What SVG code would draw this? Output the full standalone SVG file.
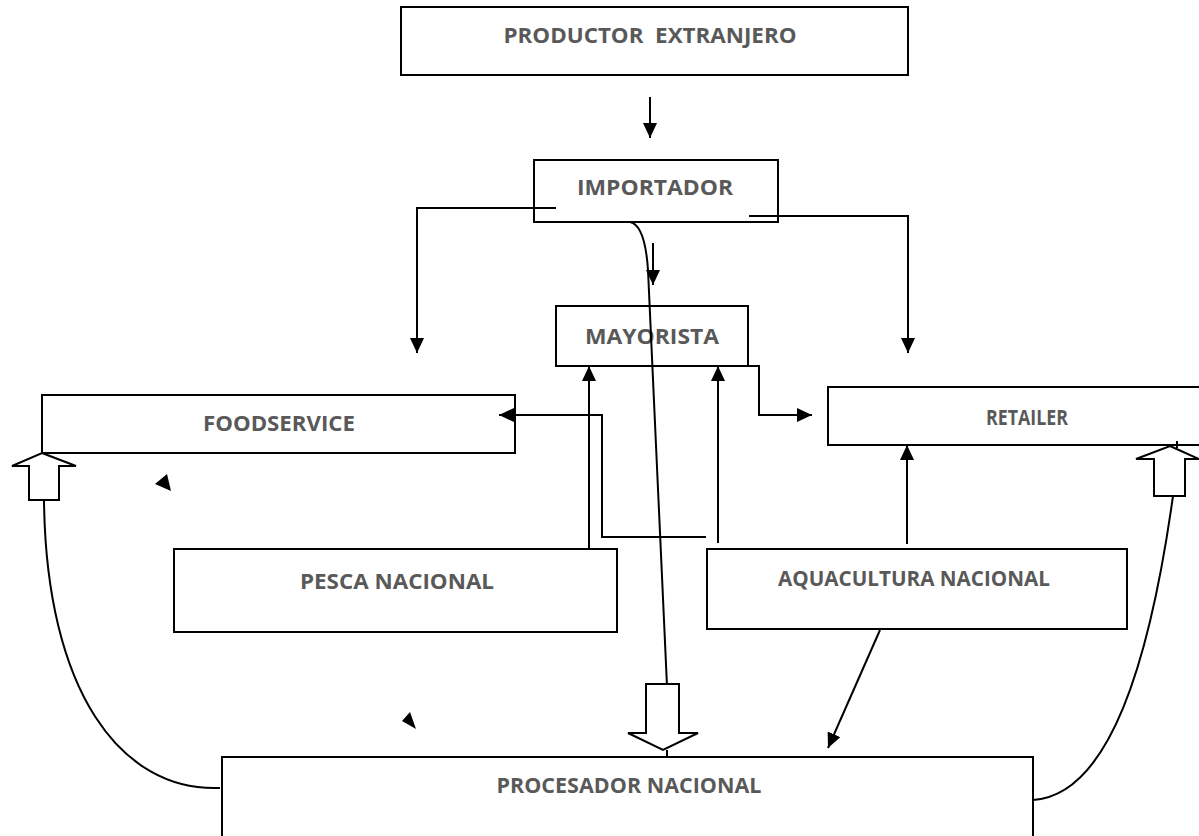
<svg xmlns="http://www.w3.org/2000/svg" width="1199" height="836" viewBox="0 0 1199 836">
<style>
.box{fill:#fff;stroke:#000;stroke-width:2}
.lbl{font-family:"Open Sans","Liberation Sans",Arial,sans-serif;font-weight:bold;font-size:21px;fill:#595959;text-anchor:middle}
.ln{fill:none;stroke:#000;stroke-width:2}
.blk{fill:#fff;stroke:#000;stroke-width:2;stroke-linejoin:miter}
.tri{fill:#000}
</style>
<defs>
<marker id="ah" markerUnits="userSpaceOnUse" markerWidth="15" markerHeight="14" viewBox="0 0 15 14" refX="15" refY="7" orient="auto">
<path d="M0,0 L15,7 L0,14 Z" fill="#000"/>
</marker>
</defs>
<g id="productor"><rect class="box" x="401" y="7" width="507" height="68"/><text class="lbl" x="650" y="43" textLength="293" lengthAdjust="spacingAndGlyphs" xml:space="preserve">PRODUCTOR  EXTRANJERO</text></g>
<g id="importador"><rect class="box" x="534" y="160" width="244" height="62"/><text class="lbl" x="655" y="195" textLength="156" lengthAdjust="spacingAndGlyphs">IMPORTADOR</text></g>
<g id="mayorista"><rect class="box" x="556" y="306" width="192" height="60"/><text class="lbl" x="652" y="344" textLength="134" lengthAdjust="spacingAndGlyphs">MAYORISTA</text></g>
<g id="foodservice"><rect class="box" x="42" y="395" width="473" height="58"/><text class="lbl" x="279" y="431" textLength="152" lengthAdjust="spacingAndGlyphs">FOODSERVICE</text></g>
<g id="retailer"><rect class="box" x="828" y="387" width="380" height="58"/><text class="lbl" x="1027" y="425" textLength="82" lengthAdjust="spacingAndGlyphs">RETAILER</text></g>
<g id="pesca"><rect class="box" x="174" y="549" width="443" height="83"/><text class="lbl" x="397" y="589" textLength="194" lengthAdjust="spacingAndGlyphs">PESCA NACIONAL</text></g>
<g id="aquacultura"><rect class="box" x="707" y="549" width="420" height="80"/><text class="lbl" x="914" y="586" textLength="272" lengthAdjust="spacingAndGlyphs">AQUACULTURA NACIONAL</text></g>
<g id="procesador"><rect class="box" x="222" y="757" width="811" height="90"/><text class="lbl" x="629" y="793" textLength="265" lengthAdjust="spacingAndGlyphs">PROCESADOR NACIONAL</text></g>
<g id="connectors">
<path class="ln" d="M650,97 V138" marker-end="url(#ah)"/>
<path class="ln" d="M556,208 H417 V353" marker-end="url(#ah)"/>
<path class="ln" d="M749,216 H908 V353" marker-end="url(#ah)"/>
<path class="ln" d="M653,243 V285" marker-end="url(#ah)"/>
<path class="ln" d="M630,222 Q645,225 648,270 L667,686"/>
<path class="ln" d="M589,548 V366" marker-end="url(#ah)"/>
<path class="ln" d="M718,543 V366" marker-end="url(#ah)"/>
<path class="ln" d="M707,366 H759 V415 H812" marker-end="url(#ah)"/>
<path class="ln" d="M706,537 H602 V415 H499" marker-end="url(#ah)"/>
<path class="ln" d="M907,544 V445" marker-end="url(#ah)"/>
<path class="ln" d="M880,630 L828,748" marker-end="url(#ah)"/>
<path class="blk" d="M646,684 H679 V733 H698 L663,750 L628,733 H646 Z"/>
<path class="ln" d="M667,750 V757"/>
<path class="blk" d="M42,453 L76,466 H59 V500 H29 V466 H12 Z"/>
<path class="ln" d="M44,500 C46,690 120,792 220,788"/>
<path class="blk" d="M1170,446 L1199,459 H1185 V496 H1154 V459 H1136 Z"/>
<path class="ln" d="M1177,441 V448"/>
<path class="ln" d="M1173,496 C1150,660 1110,795 1033,800"/>
<path class="tri" d="M155,484 L167,474 L171,491 Z"/>
<path class="tri" d="M402,721 L410,712 L416,729 Z"/>
</g>
</svg>
